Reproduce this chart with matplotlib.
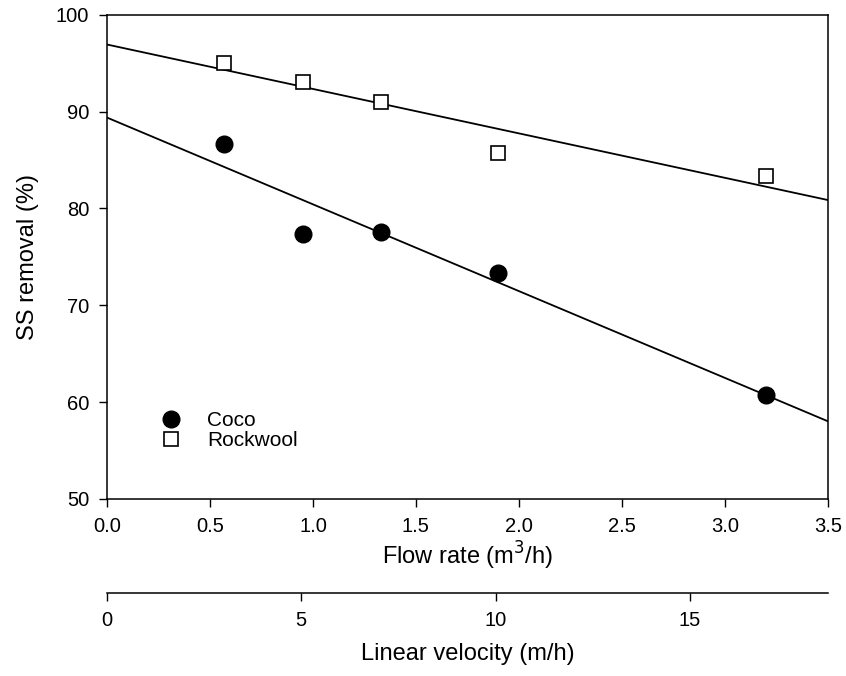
import matplotlib
matplotlib.use("Agg")
from matplotlib import pyplot as plt
import numpy as np

plt.rcParams['font.family'] = ['Liberation Sans', 'DejaVu Sans']

flow = [0.57, 0.95, 1.33, 1.90, 3.20]
coco = [86.7, 77.4, 77.6, 73.3, 60.7]
rockwool = [95.0, 93.1, 91.0, 85.7, 83.4]

flow_max = 3.5
velocity_max = 18.55

fig = plt.figure(figsize=(8.46, 6.76), dpi=100)
ax = fig.add_axes([0.1265, 0.262, 0.852, 0.716])

# regression lines over the whole flow range
xs = np.array([0, flow_max])
for ys in (coco, rockwool):
    slope, icpt = np.polyfit(flow, ys, 1)
    ax.plot(xs, icpt + slope * xs, color='black', lw=1.3, zorder=2)

ax.plot(flow, coco, 'o', color='black', ms=12, label='Coco', zorder=3)
ax.plot(flow, rockwool, 's', mfc='white', mec='black', mew=1.2, ms=10,
        label='Rockwool', zorder=3)

ax.set_xlim(0, flow_max)
ax.set_ylim(50, 100)
ax.set_xticks(np.arange(0, 3.51, 0.5))
ax.set_xticklabels(['%.1f' % v for v in np.arange(0, 3.51, 0.5)])
ax.set_yticks(range(50, 101, 10))
ax.tick_params(direction='out', length=5.8, width=1, labelsize=14.5, pad=7)
ax.set_xlabel('Flow rate (m$^3$/h)', fontsize=17, labelpad=3)
ax.set_ylabel('SS removal (%)', fontsize=17, labelpad=12)
for s in ax.spines.values():
    s.set_linewidth(1.1)

ax.legend(loc='center left', bbox_to_anchor=(0.06, 0.1415), frameon=False,
          fontsize=15, handlelength=2.0, handletextpad=0.73,
          labelspacing=0.05, borderpad=0, borderaxespad=0)

ax2 = ax.twiny()
ax2.set_xlim(0, velocity_max)
ax2.set_xticks([0, 5, 10, 15])
ax2.xaxis.set_ticks_position('bottom')
ax2.xaxis.set_label_position('bottom')
ax2.spines['bottom'].set_position(('outward', 68))
for side in ('top', 'left', 'right'):
    ax2.spines[side].set_visible(False)
ax2.spines['bottom'].set_linewidth(1.1)
ax2.tick_params(direction='out', length=5.8, width=1, labelsize=14.5, pad=7)
ax2.set_xlabel('Linear velocity (m/h)', fontsize=17, labelpad=9)

fig.savefig('out.png', dpi=100)
